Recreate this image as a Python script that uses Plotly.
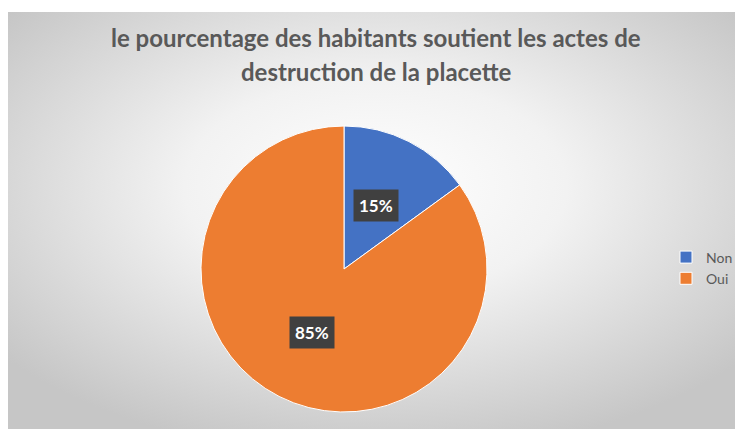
import math, base64
import plotly.graph_objects as go

labels = ["Non", "Oui"]
values = [15, 85]
colors = ["#4472C4", "#ED7D31"]
title_lines = ["le pourcentage des habitants soutient les actes de",
               "destruction de la placette"]

# The page body adds an 8px margin, so the figure is 8px smaller than the window.
W, H = 735, 421
FONT = "Lato, Open Sans, sans-serif"

svg = f'''<svg xmlns="http://www.w3.org/2000/svg" width="{W}" height="{H}" viewBox="0 0 {W} {H}" preserveAspectRatio="none">
<defs><radialGradient id="g" cx="0.5" cy="0.42" r="0.65" gradientUnits="objectBoundingBox">
<stop offset="0" stop-color="#ffffff"/><stop offset="0.4" stop-color="#f2f2f2"/><stop offset="1" stop-color="#c6c6c6"/></radialGradient></defs>
<rect x="0" y="0" width="{W}" height="{H}" fill="#ffffff"/>
<rect x="0" y="4" width="{W}" height="{H-4}" fill="url(#g)"/>
</svg>'''
uri = "data:image/svg+xml;base64," + base64.b64encode(svg.encode()).decode()

cx, cy, r = 336, 261, 143
dom_x = [(cx - r) / W, (cx + r) / W]
dom_y = [(H - cy - r) / H, (H - cy + r) / H]

fig = go.Figure()
fig.add_trace(go.Pie(
    labels=labels, values=values, sort=False, direction="clockwise", rotation=0,
    marker=dict(colors=colors, line=dict(color="#ffffff", width=1)),
    textinfo="none", hoverinfo="label+percent",
    domain=dict(x=dom_x, y=dom_y),
))

# percentage callouts placed from the data angles
total = sum(values)
cum = 0
annotations = []
for v in values:
    mid = (cum + v / 2) / total * 2 * math.pi
    cum += v
    d = 0.5 * r
    px = cx + d * math.sin(mid)
    py = cy - d * math.cos(mid)
    annotations.append(dict(
        x=px / W, y=(H - py) / H, xref="paper", yref="paper",
        xanchor="center", yanchor="middle",
        text=f"<b>{round(v / total * 100)}%</b>", showarrow=False,
        font=dict(family=FONT, size=17, color="#ffffff"),
        bgcolor="#404040", borderpad=5,
    ))

# title (two lines)
for i, line in enumerate(title_lines):
    annotations.append(dict(
        x=368 / W, y=(H - (29 + 34 * i)) / H, xref="paper", yref="paper",
        xanchor="center", yanchor="middle", showarrow=False,
        text=f"<b>{line}</b>",
        font=dict(family=FONT, size=24, color="#595959"),
    ))

fig.update_layout(
    width=W, height=H,
    margin=dict(l=0, r=0, t=0, b=0),
    paper_bgcolor="#ffffff",
    images=[dict(source=uri, xref="paper", yref="paper", x=0, y=1, sizex=1, sizey=1,
                 sizing="stretch", layer="below", xanchor="left", yanchor="top")],
    legend=dict(x=658 / W, y=(H - 260) / H, xanchor="left", yanchor="middle",
                font=dict(family=FONT, size=14, color="#595959"),
                bgcolor="rgba(0,0,0,0)", itemwidth=30),
    annotations=annotations,
)

fig.write_html("out.html")
